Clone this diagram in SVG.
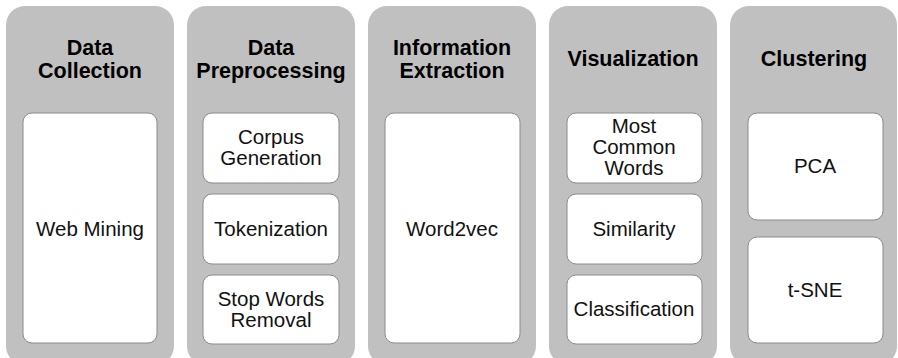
<svg xmlns="http://www.w3.org/2000/svg" width="898" height="358" viewBox="0 0 898 358">
<style>
.col{fill:#c0c0c0;}
.box{fill:#fff;stroke:#8a8a8a;stroke-width:1;}
.h{font-family:"Liberation Sans",Arial,sans-serif;font-weight:bold;font-size:21.5px;fill:#000;text-anchor:middle;}
.t{font-family:"Liberation Sans",Arial,sans-serif;font-size:20.5px;fill:#111;text-anchor:middle;}
</style>
<rect x="0" y="0" width="898" height="358" fill="#fff"/>
<g id="data-collection">
<rect class="col" x="6" y="6" width="168" height="359" rx="19"/>
<text class="h" x="90" y="55">Data</text>
<text class="h" x="90" y="78">Collection</text>
<g id="web-mining"><rect class="box" x="23" y="113" width="134" height="230" rx="9"/>
<text class="t" x="90" y="236">Web Mining</text></g>
</g>
<g id="data-preprocessing">
<rect class="col" x="187" y="6" width="168" height="359" rx="19"/>
<text class="h" x="271" y="55">Data</text>
<text class="h" x="271" y="78">Preprocessing</text>
<g id="corpus-generation"><rect class="box" x="203" y="113" width="136" height="70" rx="9"/>
<text class="t" x="271" y="144">Corpus</text>
<text class="t" x="271" y="165">Generation</text></g>
<g id="tokenization"><rect class="box" x="203" y="194" width="136" height="70" rx="9"/>
<text class="t" x="271" y="236">Tokenization</text></g>
<g id="stop-words-removal"><rect class="box" x="203" y="275" width="136" height="69" rx="9"/>
<text class="t" x="271" y="306">Stop Words</text>
<text class="t" x="271" y="327">Removal</text></g>
</g>
<g id="information-extraction">
<rect class="col" x="368" y="6" width="168" height="359" rx="19"/>
<text class="h" x="452" y="55">Information</text>
<text class="h" x="452" y="78">Extraction</text>
<g id="word2vec"><rect class="box" x="385" y="113" width="135" height="230" rx="9"/>
<text class="t" x="452" y="236">Word2vec</text></g>
</g>
<g id="visualization">
<rect class="col" x="549" y="6" width="168" height="359" rx="19"/>
<text class="h" x="633" y="66">Visualization</text>
<g id="most-common-words"><rect class="box" x="567" y="113" width="135" height="70" rx="9"/>
<text class="t" x="634" y="133">Most</text>
<text class="t" x="634" y="154">Common</text>
<text class="t" x="634" y="175">Words</text></g>
<g id="similarity"><rect class="box" x="567" y="194" width="135" height="70" rx="9"/>
<text class="t" x="634" y="236">Similarity</text></g>
<g id="classification"><rect class="box" x="567" y="275" width="135" height="69" rx="9"/>
<text class="t" x="634" y="316">Classification</text></g>
</g>
<g id="clustering">
<rect class="col" x="730" y="6" width="167" height="359" rx="19"/>
<text class="h" x="814" y="66">Clustering</text>
<g id="pca"><rect class="box" x="748" y="113" width="135" height="107" rx="9"/>
<text class="t" x="815" y="173">PCA</text></g>
<g id="t-sne"><rect class="box" x="748" y="237" width="135" height="106" rx="9"/>
<text class="t" x="815" y="297">t-SNE</text></g>
</g>
<g id="connectors"></g>
</svg>
